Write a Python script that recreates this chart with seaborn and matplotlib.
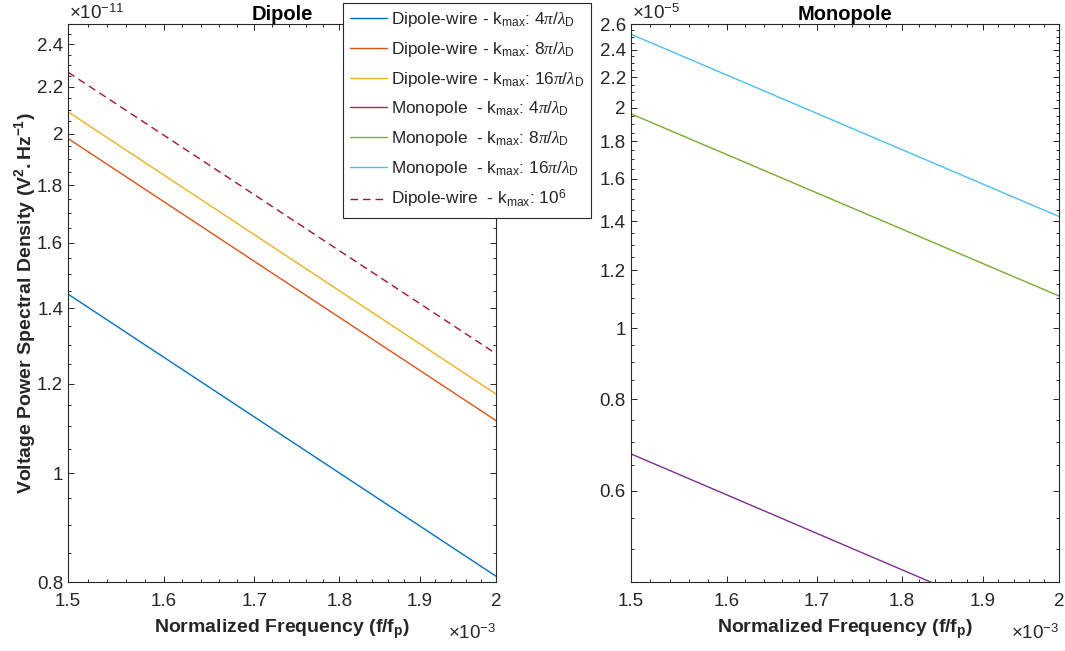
import numpy as np
import pandas as pd
import matplotlib
matplotlib.use("Agg")
import matplotlib.pyplot as plt
from matplotlib.ticker import FixedLocator, FuncFormatter, NullFormatter
import seaborn as sns

# normalized frequency (f/f_p), ends of the plotted range
freq = [1.5e-3, 2.0e-3]

# voltage PSD (V^2/Hz) read at both ends of the range
dipole_4pi = [1.441e-11, 0.810e-11]
dipole_8pi = [1.980e-11, 1.113e-11]
dipole_16pi = [2.091e-11, 1.175e-11]
dipole_1e6 = [2.267e-11, 1.276e-11]

monopole_4pi = [0.674e-5, 0.379e-5]
monopole_8pi = [1.963e-5, 1.107e-5]
monopole_16pi = [2.521e-5, 1.421e-5]

# tick labels (mantissas)
x_ticks = [1.5, 1.6, 1.7, 1.8, 1.9, 2.0]
dipole_yticks = [0.8, 1.0, 1.2, 1.4, 1.6, 1.8, 2.0, 2.2, 2.4]
monopole_yticks = [0.6, 0.8, 1.0, 1.2, 1.4, 1.6, 1.8, 2.0, 2.2, 2.4, 2.6]

# MATLAB default colour order
c_blue, c_orange, c_yellow = "#0072BD", "#D95319", "#EDB120"
c_purple, c_green, c_cyan, c_red = "#7E2F8E", "#77AC30", "#4DBEEE", "#A2142F"

sns.set_style("ticks")
plt.rcParams["font.family"] = ["Liberation Sans", "DejaVu Sans"]
plt.rcParams["mathtext.fontset"] = "custom"
plt.rcParams["mathtext.rm"] = "Liberation Sans"
plt.rcParams["mathtext.it"] = "Liberation Serif:italic"
plt.rcParams["mathtext.bf"] = "Liberation Sans:bold"

dark = "#262626"
tick_fs = 13.5

fig = plt.figure(figsize=(10.65, 6.51), dpi=100)
ax1 = fig.add_axes([68 / 1065, 1 - 582.3 / 651, 428 / 1065, 558 / 651])
ax2 = fig.add_axes([630.7 / 1065, 1 - 582.3 / 651, 428.3 / 1065, 558 / 651])

lbl = r"k$_{\mathrm{max}}$"
sns.lineplot(x=freq, y=dipole_4pi, ax=ax1, color=c_blue, lw=1,
             label=r"Dipole-wire - " + lbl + r": 4$\pi/\lambda_{\mathrm{D}}$")
sns.lineplot(x=freq, y=dipole_8pi, ax=ax1, color=c_orange, lw=1,
             label=r"Dipole-wire - " + lbl + r": 8$\pi/\lambda_{\mathrm{D}}$")
sns.lineplot(x=freq, y=dipole_16pi, ax=ax1, color=c_yellow, lw=1,
             label=r"Dipole-wire - " + lbl + r": 16$\pi/\lambda_{\mathrm{D}}$")
sns.lineplot(x=freq, y=dipole_1e6, ax=ax1, color=c_red, lw=1, linestyle=(0, (5.5, 3.5)),
             label=r"Dipole-wire  - " + lbl + r": 10$^{6}$")

sns.lineplot(x=freq, y=monopole_4pi, ax=ax2, color=c_purple, lw=1,
             label=r"Monopole  - " + lbl + r": 4$\pi/\lambda_{\mathrm{D}}$")
sns.lineplot(x=freq, y=monopole_8pi, ax=ax2, color=c_green, lw=1,
             label=r"Monopole  - " + lbl + r": 8$\pi/\lambda_{\mathrm{D}}$")
sns.lineplot(x=freq, y=monopole_16pi, ax=ax2, color=c_cyan, lw=1,
             label=r"Monopole  - " + lbl + r": 16$\pi/\lambda_{\mathrm{D}}$")

h1, l1 = ax1.get_legend_handles_labels()
h2, l2 = ax2.get_legend_handles_labels()
ax1.get_legend().remove()
ax2.get_legend().remove()
handles = h1[:3] + h2 + h1[3:]
labels = l1[:3] + l2 + l1[3:]


def fmt_scale(scale):
    return FuncFormatter(lambda v, pos: "%g" % round(v / scale, 6))


for ax, yt, yscale, ylim, title, yexp in [
    (ax1, dipole_yticks, 1e-11, (0.8e-11, 2.5e-11), "Dipole", r"$\times10^{-11}$"),
    (ax2, monopole_yticks, 1e-5, (0.45e-5, 2.6e-5), "Monopole", r"$\times10^{-5}$"),
]:
    ax.set_xscale("log")
    ax.set_yscale("log")
    ax.set_xlim(1.5e-3, 2.0e-3)
    ax.set_ylim(*ylim)

    ax.xaxis.set_major_locator(FixedLocator([t * 1e-3 for t in x_ticks]))
    ax.xaxis.set_major_formatter(fmt_scale(1e-3))
    ax.xaxis.set_minor_locator(FixedLocator(np.arange(1.5, 2.001, 0.02) * 1e-3))
    ax.xaxis.set_minor_formatter(NullFormatter())

    ax.yaxis.set_major_locator(FixedLocator([t * yscale for t in yt]))
    ax.yaxis.set_major_formatter(fmt_scale(yscale))
    ax.yaxis.set_minor_locator(FixedLocator(np.arange(0.4, 2.7, 0.05) * yscale))
    ax.yaxis.set_minor_formatter(NullFormatter())

    ax.tick_params(which="both", direction="in", top=True, right=True,
                   colors=dark, labelsize=tick_fs, width=0.7)
    ax.tick_params(which="major", length=4.5)
    ax.tick_params(which="minor", length=2.5)
    ax.tick_params(axis="x", which="major", pad=7.5)
    ax.tick_params(axis="y", which="major", pad=3.5)
    for s in ax.spines.values():
        s.set_color(dark)
        s.set_linewidth(0.8)

    ax.set_title(title, fontsize=14.5, fontweight="bold", color="black", pad=3)
    ax.set_xlabel(r"Normalized Frequency ($\mathbf{f/f_{p}}$)", fontsize=14,
                  fontweight="bold", color=dark, labelpad=6)
    ax.text(0.003, 1.003, yexp, transform=ax.transAxes, ha="left", va="bottom",
            fontsize=tick_fs, color=dark)
    ax.text(1.0, -0.092, r"$\times10^{-3}$", transform=ax.transAxes, ha="right",
            va="center", fontsize=tick_fs, color=dark)

ax1.set_ylabel(r"Voltage Power Spectral Density ($\mathbf{V^{2}.Hz^{-1}}$)",
               fontsize=14, fontweight="bold", color=dark, labelpad=-1)

leg = fig.legend(handles, labels, loc="upper left", bbox_to_anchor=(343 / 1065, 1 - 3 / 651),
                 fontsize=12.4, frameon=True, fancybox=False, framealpha=1,
                 edgecolor=dark, handlelength=2.15, handletextpad=0.2,
                 labelspacing=0.62, borderpad=0.42, borderaxespad=0)
leg.get_frame().set_linewidth(0.8)

fig.savefig("out.png", dpi=100)
